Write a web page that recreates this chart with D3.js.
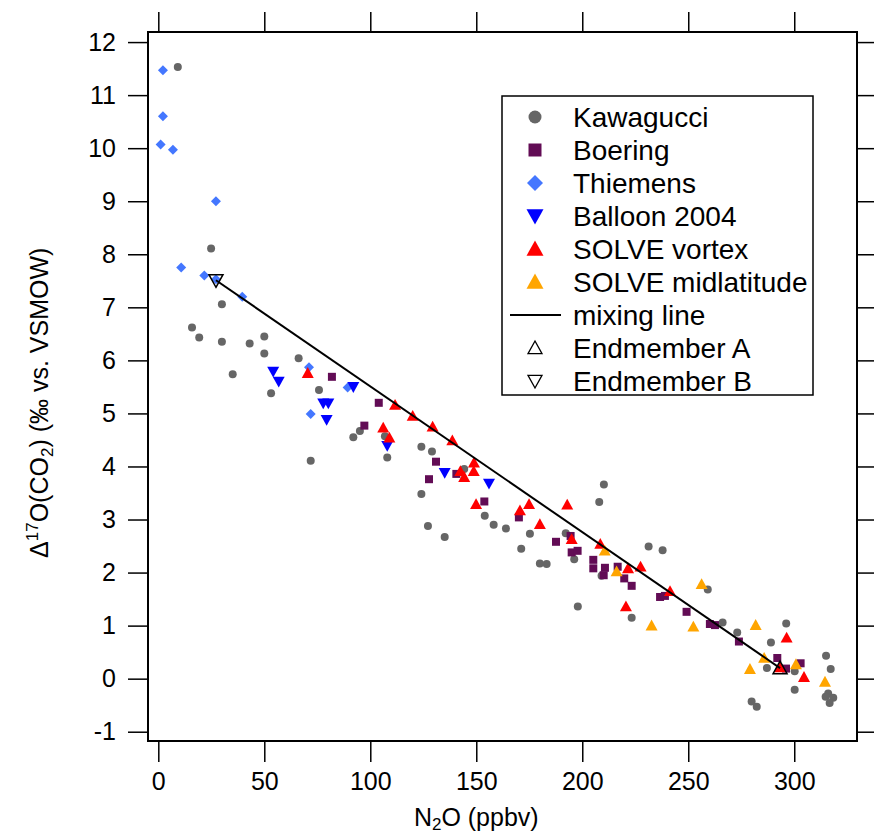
<!DOCTYPE html>
<meta charset="utf-8">
<style>
    body { margin: 0; background: #fff; }
    svg { display: block; font-family: "Liberation Sans", Arial, sans-serif; }
    .tick line { stroke: #000; stroke-width: 1.5px; }
    .tick text { font-size: 25px; fill: #000; }
    .frame { fill: none; stroke: #000; stroke-width: 2px; }
    .mix { fill: none; stroke: #000; stroke-width: 2px; }
</style>
<svg width="874" height="839"></svg>
<script src="https://d3js.org/d3.v7.min.js"></script>
<script>

    // N2O (ppbv), D17O (permil) pairs
    var kawagucci = [
        [9.2, 11.53], [24.9, 8.11], [30.0, 7.06], [15.9, 6.62], [19.3, 6.43], [30.0, 6.35],
        [43.1, 6.32], [50.0, 6.45], [50.0, 6.13], [66.2, 6.04], [35.1, 5.74], [53.2, 5.38],
        [75.8, 5.44], [71.9, 4.11], [95.1, 4.67], [92.0, 4.55], [106.9, 4.57], [108.0, 4.17],
        [124.1, 4.37], [129.1, 4.28], [144.3, 3.95], [124.1, 3.48], [154.0, 3.07], [158.2, 2.90],
        [127.2, 2.88], [135.1, 2.67], [164.0, 2.83], [175.3, 2.73], [210.2, 3.66], [208.0, 3.33],
        [171.2, 2.45], [192.2, 2.74], [196.2, 2.25], [180.0, 2.17], [183.2, 2.16], [209.1, 1.94],
        [231.3, 2.49], [237.9, 2.42], [197.9, 1.36], [223.3, 1.15], [259.2, 1.68], [266.2, 1.06],
        [273.1, 0.87], [296.2, 1.04], [289.0, 0.68], [287.1, 0.20], [300.2, 0.14], [300.2, -0.21],
        [279.9, -0.43], [282.3, -0.53], [315.0, 0.43], [317.2, 0.18], [316.0, -0.28], [318.4, -0.36],
        [314.8, -0.34], [316.7, -0.46]
    ];
    var boering = [
        [81.9, 5.69], [104.0, 5.20], [97.2, 4.77], [131.0, 4.09], [140.6, 3.86], [127.7, 3.76],
        [153.8, 3.34], [170.1, 3.04], [187.6, 2.58], [194.5, 2.69], [195.0, 2.38], [197.8, 2.41],
        [205.2, 2.24], [205.2, 2.08], [210.7, 2.09], [210.1, 1.95], [216.7, 2.11], [219.8, 1.89],
        [223.3, 1.75], [236.7, 1.54], [239.0, 1.56], [249.2, 1.26], [260.2, 1.03], [262.6, 1.01],
        [273.9, 0.70], [292.0, 0.39], [296.1, 0.19], [303.0, 0.29]
    ];
    var thiemens = [
        [2.2, 11.47], [2.2, 10.6], [1.1, 10.07], [6.9, 9.97], [27.2, 9.0], [10.8, 7.75],
        [21.7, 7.60], [27.2, 7.53], [39.6, 7.20], [71.1, 5.87], [71.9, 4.99], [89.3, 5.49]
    ];
    var balloon = [
        [54.2, 5.79], [56.8, 5.60], [77.8, 5.19], [80.2, 5.19], [79.4, 4.88], [92.0, 5.50],
        [108.0, 4.39], [135.1, 3.88], [156.0, 3.68]
    ];
    var solveVortex = [
        [70.5, 5.76], [111.7, 5.16], [120.0, 4.95], [129.4, 4.75], [138.7, 4.49], [106.1, 4.73],
        [109.0, 4.54], [142.5, 3.91], [144.3, 3.80], [148.9, 4.07], [148.8, 3.91], [149.9, 3.29],
        [174.9, 3.29], [170.6, 3.17], [180.0, 2.91], [192.9, 3.28], [195.0, 2.63], [208.5, 2.54],
        [221.6, 2.08], [227.5, 2.11], [241.4, 1.65], [220.6, 1.36], [296.4, 0.77], [293.3, 0.21],
        [304.6, 0.03]
    ];
    var solveMid = [
        [210.6, 2.41], [216.2, 2.02], [232.7, 1.00], [256.3, 1.78], [252.4, 0.98], [281.8, 1.01],
        [285.8, 0.39], [279.1, 0.18], [300.8, 0.27], [314.5, -0.06]
    ];
    var endA = [293.3, 0.20];
    var endB = [27.2, 7.51];

    var xTicks = [0, 50, 100, 150, 200, 250, 300];
    var yTicks = [-1, 0, 1, 2, 3, 4, 5, 6, 7, 8, 9, 10, 11, 12];
    var legendLabels = ["Kawagucci", "Boering", "Thiemens", "Balloon 2004", "SOLVE vortex",
        "SOLVE midlatitude", "mixing line", "Endmember A", "Endmember B"];

    var svg = d3.select("svg"),
        margin = {top: 32, right: 17, bottom: 98, left: 148},
        width = +svg.attr("width") - margin.left - margin.right,
        height = +svg.attr("height") - margin.top - margin.bottom;

    var x = d3.scaleLinear().domain([-4.86, 329.6]).range([0, width]),
        y = d3.scaleLinear().domain([-1.175, 12.19]).range([height, 0]);

    // symbol shapes, size = half width in px
    function shape(kind) {
        return function(r) {
            var p = d3.path();
            if (kind === "circle") {
                p.moveTo(r, 0); p.arc(0, 0, r, 0, 2 * Math.PI);
            } else if (kind === "square") {
                p.rect(-r, -r, 2 * r, 2 * r);
            } else if (kind === "diamond") {
                p.moveTo(0, -r); p.lineTo(r, 0); p.lineTo(0, r); p.lineTo(-r, 0);
            } else if (kind === "up") {
                p.moveTo(0, -r); p.lineTo(r, r * 0.8); p.lineTo(-r, r * 0.8);
            } else if (kind === "down") {
                p.moveTo(0, r); p.lineTo(r, -r * 0.8); p.lineTo(-r, -r * 0.8);
            }
            p.closePath();
            return p.toString();
        };
    }

    var series = [
        {data: kawagucci, kind: "circle", color: "#666666", r: 4, lr: 6.5},
        {data: boering, kind: "square", color: "#620c55", r: 4, lr: 6.5},
        {data: thiemens, kind: "diamond", color: "#4477ff", r: 5, lr: 8},
        {data: balloon, kind: "down", color: "#0000ff", r: 6, lr: 8.5},
        {data: solveVortex, kind: "up", color: "#ff0000", r: 6, lr: 8.5},
        {data: solveMid, kind: "up", color: "#ffa500", r: 6, lr: 8.5}
    ];

    var g = svg.append("g")
        .attr("transform", "translate(" + margin.left + "," + margin.top + ")");

    var plain = function(d) { return String(d); }; // keep hyphen-minus like the original

    // axes
    g.append("g")
        .attr("transform", "translate(0," + height + ")")
        .call(d3.axisBottom(x).tickValues(xTicks).tickSize(21).tickPadding(10).tickFormat(plain))
        .call(function(a) { a.select(".domain").remove(); });
    g.append("g")
        .call(d3.axisTop(x).tickValues(xTicks).tickSize(20).tickFormat(""))
        .call(function(a) { a.select(".domain").remove(); });
    g.append("g")
        .call(d3.axisLeft(y).tickValues(yTicks).tickSize(20).tickPadding(12).tickFormat(plain))
        .call(function(a) { a.select(".domain").remove(); });
    g.append("g")
        .attr("transform", "translate(" + width + ",0)")
        .call(d3.axisRight(y).tickValues(yTicks).tickSize(20).tickFormat(""))
        .call(function(a) { a.select(".domain").remove(); });

    g.append("rect")
        .attr("class", "frame")
        .attr("width", width)
        .attr("height", height);

    // data points
    series.forEach(function(s) {
        g.append("g").selectAll("path")
            .data(s.data)
            .enter().append("path")
            .attr("transform", function(d) { return "translate(" + x(d[0]) + "," + y(d[1]) + ")"; })
            .attr("d", shape(s.kind)(s.r))
            .attr("fill", s.color);
    });

    // mixing line between endmembers
    g.append("path")
        .datum([endB, endA])
        .attr("class", "mix")
        .attr("d", d3.line().x(function(d) { return x(d[0]); }).y(function(d) { return y(d[1]); }));

    g.append("path")
        .attr("transform", "translate(" + x(endA[0]) + "," + y(endA[1]) + ")")
        .attr("d", shape("up")(7))
        .attr("fill", "none").attr("stroke", "#000").attr("stroke-width", 1.5);
    g.append("path")
        .attr("transform", "translate(" + x(endB[0]) + "," + y(endB[1]) + ")")
        .attr("d", shape("down")(7))
        .attr("fill", "none").attr("stroke", "#000").attr("stroke-width", 1.5);

    // axis titles
    var xt = svg.append("text")
        .attr("x", margin.left + x(150))
        .attr("y", 826)
        .attr("text-anchor", "middle")
        .style("font-size", "25px");
    xt.append("tspan").text("N");
    xt.append("tspan").attr("baseline-shift", "-25%").style("font-size", "17px").text("2");
    xt.append("tspan").text("O (ppbv)");

    var yt = svg.append("text")
        .attr("transform", "translate(48," + (margin.top + y(5.2)) + ") rotate(-90)")
        .attr("text-anchor", "middle")
        .style("font-size", "25px");
    yt.append("tspan").text("Δ");
    yt.append("tspan").attr("baseline-shift", "60%").style("font-size", "17px").text("17");
    yt.append("tspan").text("O(CO");
    yt.append("tspan").attr("baseline-shift", "-30%").style("font-size", "17px").text("2");
    yt.append("tspan").text(") (‰ vs. VSMOW)");

    // legend
    var legend = svg.append("g").attr("transform", "translate(502,96)");
    legend.append("rect")
        .attr("width", 311).attr("height", 299)
        .attr("fill", "#fff").attr("stroke", "#000").attr("stroke-width", 1.5);

    var rowY = function(i) { return 21 + i * 33; };
    legendLabels.forEach(function(label, i) {
        var row = legend.append("g").attr("transform", "translate(0," + rowY(i) + ")");
        if (i < series.length) {
            row.append("path")
                .attr("transform", "translate(33,0)")
                .attr("d", shape(series[i].kind)(series[i].lr))
                .attr("fill", series[i].color);
        } else if (label === "mixing line") {
            row.append("line").attr("x1", 8).attr("x2", 59)
                .attr("stroke", "#000").attr("stroke-width", 2);
        } else {
            row.append("path")
                .attr("transform", "translate(33,0)")
                .attr("d", shape(label === "Endmember A" ? "up" : "down")(7))
                .attr("fill", "none").attr("stroke", "#000").attr("stroke-width", 1.3);
        }
        row.append("text")
            .attr("x", 71)
            .attr("dy", "0.35em")
            .style("font-size", "28px")
            .text(label);
    });

</script>
